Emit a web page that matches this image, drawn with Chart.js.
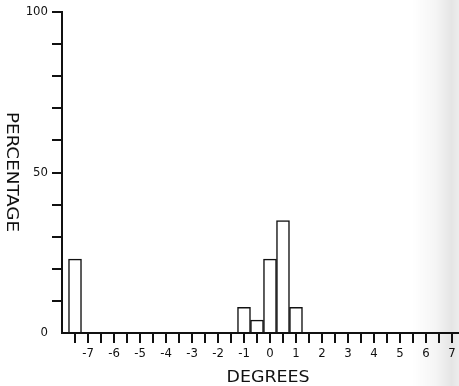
<!DOCTYPE html>
<html>
<head>
<meta charset="utf-8">
<script src="https://cdn.jsdelivr.net/npm/chart.js@4.4.0/dist/chart.umd.min.js"></script>
<style>
  html, body { margin: 0; padding: 0; background: #fff; overflow: hidden; }
  #wrap { position: relative; width: 459px; height: 386px; }
  #shade {
    position: absolute; left: 412px; top: 0; width: 47px; height: 386px; pointer-events: none;
    background: linear-gradient(to right, rgba(0,0,0,0) 0%, rgba(0,0,0,0.04) 50%, rgba(0,0,0,0.10) 85%, rgba(0,0,0,0.07) 100%);
  }
</style>
</head>
<body>
<div id="wrap"><canvas id="myChart" width="459" height="386"></canvas><div id="shade"></div></div>
<script>
// histogram bins (centre, degrees) and percentages
const binCenters = [-7.5, -1, -0.5, 0, 0.5, 1];
const percentages = [23, 8, 4, 23, 35, 8];

const xTickLabels = ['-7', '-6', '-5', '-4', '-3', '-2', '-1', '0', '1', '2', '3', '4', '5', '6', '7'];
const yTickLabels = ['0', '50', '100'];

const xTitle = 'DEGREES';
const yTitle = 'PERCENTAGE';

const ink = '#111';
const font = '"DejaVu Sans Condensed", "DejaVu Sans", sans-serif';

// axis titles drawn by hand so the y title can read top to bottom
const titlePlugin = {
    id: 'axisTitles',
    afterDraw(chart) {
        const ctx = chart.ctx;
        ctx.save();
        ctx.fillStyle = ink;
        ctx.font = '16px ' + font;
        ctx.textAlign = 'center';
        ctx.textBaseline = 'alphabetic';

        let w = ctx.measureText(xTitle).width;
        ctx.save();
        ctx.translate(268, 382);
        ctx.scale(83 / w, 1);
        ctx.fillText(xTitle, 0, 0);
        ctx.restore();

        w = ctx.measureText(yTitle).width;
        ctx.save();
        ctx.translate(7, 172);
        ctx.rotate(Math.PI / 2);
        ctx.scale(120 / w, 1);
        ctx.fillText(yTitle, 0, 0);
        ctx.restore();

        ctx.restore();
    }
};

const ctx = document.getElementById('myChart');

new Chart(ctx, {
    type: 'bar',
    data: {
        datasets: [{
            data: binCenters.map((x, i) => ({ x: x, y: percentages[i] })),
            backgroundColor: '#fff',
            borderColor: ink,
            borderWidth: 1.5,
            barPercentage: 1,
            categoryPercentage: 1
        }]
    },
    options: {
        responsive: false,
        animation: false,
        devicePixelRatio: 1,
        layout: { padding: { top: 12, left: 0, right: 0, bottom: 0 } },
        plugins: {
            legend: { display: false },
            tooltip: { enabled: false }
        },
        scales: {
            x: {
                type: 'linear',
                offset: false,
                min: -8,
                max: 7.27,
                afterBuildTicks: scale => {
                    scale.ticks = scale.ticks.filter(t =>
                        t.value > -7.9 && Math.abs(t.value * 2 - Math.round(t.value * 2)) < 1e-6);
                },
                afterFit: scale => { scale.height = 53; },
                grid: {
                    offset: false,
                    drawOnChartArea: false,
                    tickLength: 10,
                    tickColor: ink,
                    lineWidth: 2
                },
                border: { color: ink, width: 2 },
                ticks: {
                    stepSize: 0.5,
                    includeBounds: false,
                    autoSkip: false,
                    maxRotation: 0,
                    padding: 3,
                    color: ink,
                    font: { family: font, size: 13 },
                    callback: v => {
                        const s = String(v);
                        return xTickLabels.includes(s) ? s : '';
                    }
                }
            },
            y: {
                min: 0,
                max: 100,
                afterFit: scale => { scale.width = 62; },
                grid: {
                    drawOnChartArea: false,
                    tickLength: 10,
                    tickColor: c => (c.tick && c.tick.value === 0) ? 'rgba(0,0,0,0)' : ink,
                    lineWidth: 2
                },
                border: { color: ink, width: 2 },
                ticks: {
                    stepSize: 10,
                    padding: 4,
                    color: ink,
                    font: { family: font, size: 13 },
                    callback: v => {
                        const s = String(v);
                        return yTickLabels.includes(s) ? s : '';
                    }
                }
            }
        }
    },
    plugins: [titlePlugin]
});
</script>
</body>
</html>
